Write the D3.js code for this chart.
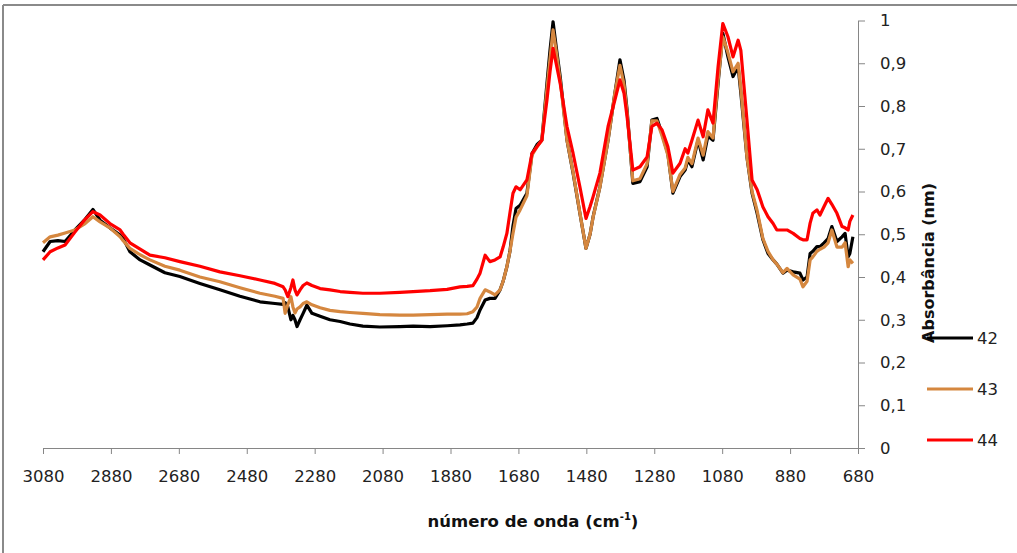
<!DOCTYPE html>
<html><head><meta charset="utf-8">
<script src="https://cdn.jsdelivr.net/npm/d3@7"></script>
<style>
html,body{margin:0;padding:0;background:#fff;}
svg{display:block;font-family:"DejaVu Sans",Arial,sans-serif;}
</style></head>
<body>
<svg id="chart" width="1017" height="553"></svg>
<script>
// wavenumbers (cm-1)
const wavenumbers = [3080,3059,3036,3015,2986,2956,2933,2912,2883,2853,2844,2824,2794,2765,2721,2677,2618,2559,2500,2441,2397,2373,2367,2359,2350,2344,2338,2332,2323,2314,2303,2288,2264,2235,2205,2176,2138,2088,2029,1990,1940,1890,1852,1831,1814,1802,1793,1778,1764,1749,1734,1725,1714,1705,1696,1687,1675,1655,1640,1625,1611,1596,1587,1578,1569,1557,1537,1519,1499,1481,1469,1460,1440,1416,1396,1381,1369,1360,1343,1322,1301,1287,1272,1257,1240,1225,1204,1189,1181,1169,1151,1136,1122,1107,1092,1078,1063,1048,1033,1025,1007,992,977,960,945,930,919,901,889,871,851,842,830,821,813,801,792,780,768,757,742,727,718,709,704,695];

const s42 = [0.459,0.483,0.485,0.483,0.51,0.535,0.558,0.533,0.515,0.498,0.49,0.459,0.44,0.428,0.41,0.401,0.385,0.37,0.355,0.342,0.338,0.336,0.34,0.33,0.3,0.31,0.3,0.284,0.3,0.315,0.334,0.315,0.308,0.3,0.296,0.29,0.285,0.283,0.284,0.285,0.284,0.286,0.288,0.29,0.292,0.305,0.323,0.346,0.35,0.35,0.37,0.39,0.424,0.46,0.52,0.56,0.568,0.596,0.689,0.71,0.72,0.853,0.93,0.997,0.94,0.869,0.72,0.643,0.549,0.467,0.5,0.541,0.611,0.72,0.83,0.908,0.86,0.791,0.619,0.623,0.658,0.767,0.771,0.735,0.689,0.596,0.635,0.65,0.674,0.658,0.72,0.674,0.73,0.72,0.853,0.97,0.915,0.869,0.892,0.83,0.68,0.596,0.549,0.487,0.455,0.44,0.43,0.409,0.416,0.412,0.409,0.393,0.40,0.455,0.46,0.471,0.471,0.48,0.49,0.518,0.483,0.494,0.502,0.447,0.455,0.494];

const s43 = [0.48,0.494,0.498,0.503,0.51,0.525,0.541,0.529,0.515,0.494,0.485,0.467,0.452,0.44,0.425,0.416,0.40,0.389,0.375,0.362,0.355,0.35,0.315,0.335,0.354,0.33,0.316,0.325,0.33,0.338,0.342,0.335,0.328,0.322,0.319,0.317,0.315,0.312,0.311,0.311,0.312,0.313,0.313,0.314,0.319,0.33,0.35,0.37,0.365,0.358,0.37,0.39,0.424,0.46,0.502,0.54,0.557,0.59,0.685,0.705,0.72,0.84,0.91,0.978,0.93,0.86,0.72,0.645,0.55,0.467,0.5,0.54,0.61,0.72,0.83,0.895,0.85,0.785,0.625,0.63,0.665,0.765,0.765,0.73,0.685,0.6,0.64,0.655,0.68,0.665,0.725,0.685,0.74,0.725,0.86,0.962,0.925,0.88,0.9,0.84,0.68,0.6,0.555,0.49,0.46,0.44,0.43,0.41,0.42,0.405,0.395,0.377,0.39,0.44,0.447,0.46,0.465,0.47,0.48,0.51,0.47,0.47,0.48,0.424,0.44,0.432];

const s44 = [0.44,0.459,0.468,0.475,0.505,0.535,0.553,0.545,0.525,0.51,0.5,0.48,0.465,0.451,0.445,0.436,0.425,0.412,0.403,0.393,0.385,0.377,0.37,0.354,0.375,0.393,0.37,0.358,0.37,0.38,0.386,0.38,0.373,0.37,0.366,0.364,0.362,0.362,0.364,0.366,0.368,0.371,0.377,0.378,0.38,0.395,0.409,0.451,0.436,0.44,0.447,0.47,0.502,0.55,0.596,0.611,0.604,0.627,0.689,0.705,0.72,0.814,0.88,0.935,0.9,0.853,0.752,0.689,0.611,0.537,0.565,0.588,0.643,0.752,0.814,0.861,0.83,0.775,0.65,0.658,0.681,0.752,0.76,0.744,0.705,0.643,0.666,0.70,0.69,0.72,0.767,0.728,0.791,0.76,0.892,0.993,0.962,0.915,0.954,0.93,0.767,0.627,0.604,0.564,0.541,0.525,0.51,0.51,0.51,0.502,0.49,0.487,0.487,0.526,0.549,0.557,0.545,0.565,0.584,0.57,0.549,0.518,0.515,0.51,0.53,0.545];

const seriesNames = ["42","43","44"];
const seriesColors = ["#000000","#D5873F","#FF0000"];
const xTicks = [3080,2880,2680,2480,2280,2080,1880,1680,1480,1280,1080,880,680];
const yTicks = [0,0.1,0.2,0.3,0.4,0.5,0.6,0.7,0.8,0.9,1];

const FONT = "DejaVu Sans, Arial, sans-serif";
const svg = d3.select("#chart");

// outer frame
svg.append("line").attr("x1",3).attr("x2",1017).attr("y1",5).attr("y2",5)
  .attr("stroke","#8a8a8a").attr("stroke-width",2);
svg.append("line").attr("x1",3).attr("x2",3).attr("y1",5).attr("y2",553)
  .attr("stroke","#8a8a8a").attr("stroke-width",2);

const x = d3.scaleLinear().domain([3080,680]).range([43,858]);
const y = d3.scaleLinear().domain([0,1]).range([448,20.5]);

// x axis
const xAxis = d3.axisBottom(x).tickValues(xTicks).tickSize(6).tickSizeOuter(0).tickPadding(16)
  .tickFormat(d3.format("d"));
const gx = svg.append("g").attr("transform","translate(0,448)").call(xAxis);
gx.select(".domain").attr("stroke","#868686");
gx.selectAll(".tick line").attr("stroke","#868686");
gx.selectAll("text").attr("font-size",16.5).attr("fill","#222").attr("font-family",FONT);

// y axis (right)
const yAxis = d3.axisRight(y).tickValues(yTicks).tickSize(7).tickSizeOuter(0).tickPadding(15)
  .tickFormat(d => d === 0 ? "0" : d === 1 ? "1" : d3.format(".1f")(d).replace(".", ","));
const gy = svg.append("g").attr("transform","translate(858,0)").call(yAxis);
gy.select(".domain").attr("stroke","#868686");
gy.selectAll(".tick line").attr("stroke","#868686");
gy.selectAll("text").attr("font-size",16.5).attr("fill","#222").attr("font-family",FONT);

// lines
const allSeries = [s42, s43, s44];
const line = d3.line().x((d,i) => x(wavenumbers[i])).y(d => y(d));
allSeries.forEach((s, k) => {
  svg.append("path").datum(s).attr("d", line)
    .attr("fill","none").attr("stroke", seriesColors[k]).attr("stroke-width",3.2)
    .attr("stroke-linejoin","round");
});

// axis titles
const xt = svg.append("text").attr("x",533).attr("y",527).attr("text-anchor","middle")
  .attr("font-family",FONT).attr("font-size",16.5).attr("font-weight","bold").attr("fill","#111");
xt.append("tspan").text("número de onda (cm");
xt.append("tspan").attr("font-size",10).attr("dy",-7).text("-1");
xt.append("tspan").attr("dy",7).text(")");

svg.append("text").attr("transform","translate(928,263) rotate(-90)")
  .attr("text-anchor","middle").attr("dominant-baseline","central")
  .attr("font-family",FONT).attr("font-size",16).attr("font-weight","bold").attr("fill","#111")
  .text("Absorbância (nm)");

// legend
const legY = [338, 389, 440];
seriesNames.forEach((n, k) => {
  svg.append("line").attr("x1",927).attr("x2",973).attr("y1",legY[k]).attr("y2",legY[k])
    .attr("stroke", seriesColors[k]).attr("stroke-width",3.2);
  svg.append("text").attr("x",977).attr("y",legY[k]).attr("dominant-baseline","central")
    .attr("font-family",FONT).attr("font-size",16.5).attr("fill","#222").text(n);
});
</script>
</body></html>
